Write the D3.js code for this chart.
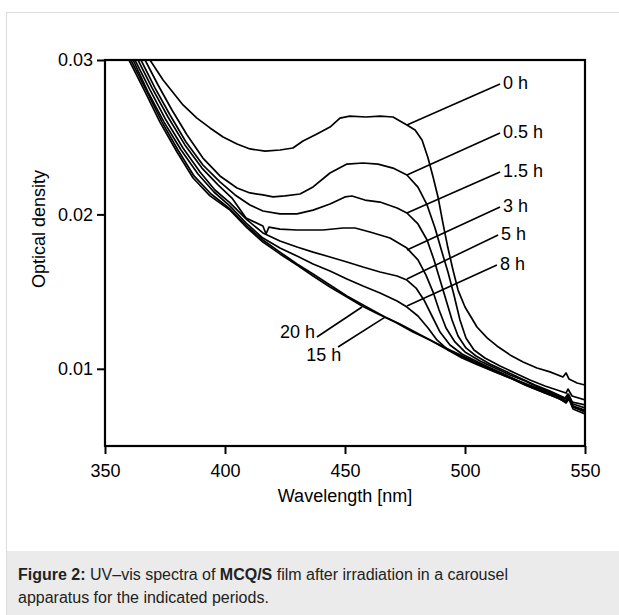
<!DOCTYPE html>
<html lang="en">
<head>
    <meta charset="UTF-8">
    <title>Figure 2</title>
    <script src="https://d3js.org/d3.v7.min.js"></script>
    <style>
        * { margin: 0; padding: 0; box-sizing: border-box; }
        body { background: #fff; font-family: "Liberation Sans", Arial, sans-serif; }
        .caption {
            position: absolute; left: 7px; top: 551px; width: 612px; height: 64px;
            background: #ebebeb; padding: 12px 11px 0 11px; font-size: 16px; color: #222;
        }
        .caption div { height: 23px; line-height: 23px; white-space: nowrap; }
    </style>
</head>
<body>
    <div id="chart"></div>
    <div class="caption">
        <div><b>Figure 2:</b><span> UV–vis spectra of </span><b>MCQ/S</b><span> film after irradiation in a carousel</span></div>
        <div><span>apparatus for the indicated periods.</span></div>
    </div>
    <script>
        // spectra: [wavelength nm, optical density]
        const s0h = [[366.7,0.0313],[368.75,0.0300],[374.2,0.0287],[382.5,0.02709],[388.3,0.02624],[393.75,0.0256],[399.2,0.02501],[405,0.02456],[410.4,0.02424],[416.7,0.0241],[422.9,0.02417],[428.3,0.0243],[432.5,0.02475],[438.3,0.02521],[443.75,0.02566],[447.9,0.02624],[452,0.02637],[458.75,0.02631],[464.6,0.02637],[470,0.02631],[472.9,0.02605],[475.8,0.02579],[479.2,0.02547],[482.1,0.02482],[484.6,0.02365],[486.7,0.02242],[488.75,0.02113],[490.8,0.01944],[492.9,0.01782],[495,0.0164],[497.1,0.0151],[500,0.0140],[505,0.01271],[509.2,0.0120],[513.3,0.01148],[518.75,0.0109],[524.2,0.01044],[530,0.01005],[535.4,0.0098],[540.8,0.00947],[542.1,0.00973],[543.3,0.00934],[546.7,0.00908],[550,0.00895]];
        const s05h = [[364.6,0.03097],[366.7,0.0300],[372.1,0.02838],[377.9,0.02676],[384.2,0.02514],[390.8,0.02365],[397.9,0.02249],[405,0.02171],[410.4,0.02139],[415.8,0.02126],[420,0.02113],[425,0.0212],[431.25,0.02132],[436.7,0.02178],[443.75,0.02268],[450.8,0.02326],[457.5,0.02333],[463.75,0.02326],[470,0.023],[475.8,0.02255],[480.4,0.02177],[484.2,0.02061],[487.5,0.01912],[490.4,0.01756],[492.9,0.01627],[495.4,0.01478],[497.9,0.01316],[500.4,0.012],[503.75,0.01122],[508.3,0.0107],[514.6,0.01018],[520.8,0.00973],[527.1,0.00927],[533.3,0.00889],[539.6,0.00856],[542.1,0.00843],[542.9,0.00869],[544.6,0.00824],[550,0.00798]];
        const s15h = [[362.9,0.03097],[365,0.0300],[370.8,0.02819],[377.1,0.02644],[383.75,0.02469],[390.8,0.0232],[397.9,0.0221],[404.2,0.02126],[410.4,0.02061],[415.8,0.02022],[422.9,0.02003],[430,0.02003],[436.7,0.02028],[443.75,0.02067],[450,0.02113],[452.9,0.02119],[458.3,0.02093],[464.6,0.0208],[471.7,0.02041],[475.8,0.02009],[480.4,0.01938],[484.2,0.01834],[487.1,0.01705],[489.6,0.01575],[492.1,0.01446],[494.6,0.01316],[497.1,0.01212],[500.4,0.01135],[504.6,0.01083],[510.4,0.01031],[516.7,0.00986],[522.9,0.0094],[529.2,0.00895],[535.4,0.00856],[541.7,0.00811],[542.9,0.00837],[544.6,0.00785],[550,0.00766]];
        const s3h = [[361.7,0.03097],[363.75,0.0300],[369.6,0.02819],[376.25,0.02631],[383.3,0.0245],[390.4,0.023],[397.1,0.02191],[402.9,0.02106],[408.75,0.01977],[415.8,0.01925],[417.1,0.01873],[418.3,0.01918],[422.9,0.01905],[430,0.01899],[440.8,0.01899],[449.2,0.01912],[454.2,0.01912],[460.4,0.01886],[468.75,0.01847],[475.8,0.01782],[480.4,0.01705],[483.75,0.01607],[486.7,0.01497],[489.2,0.01381],[492.1,0.01264],[495.8,0.01174],[500,0.01109],[506.25,0.0105],[512.5,0.01005],[518.75,0.0096],[525,0.00921],[531.25,0.00876],[537.5,0.00837],[542.1,0.00804],[543.3,0.0083],[545,0.00772],[550,0.00746]];
        const s5h = [[360.4,0.03097],[362.5,0.0300],[368.75,0.02806],[375.4,0.02611],[382.5,0.0243],[389.6,0.02275],[395.8,0.02158],[402.1,0.02074],[409.2,0.01964],[415.8,0.0188],[422.9,0.01828],[430,0.01789],[436.7,0.01756],[443.75,0.01724],[450.8,0.01692],[457.5,0.01659],[464.6,0.01627],[471.7,0.01601],[475.8,0.01575],[479.6,0.01523],[482.9,0.01446],[486.25,0.01342],[489.6,0.01238],[493.75,0.01154],[498.75,0.01096],[505.4,0.01044],[512.5,0.00992],[518.75,0.00947],[525,0.00902],[531.25,0.00863],[537.5,0.00824],[542.1,0.00792],[543.3,0.00817],[545,0.00759],[550,0.00733]];
        const s8h = [[359.6,0.03097],[361.7,0.0300],[367.9,0.02793],[374.6,0.02598],[381.7,0.02417],[388.75,0.02262],[395.4,0.02145],[402.1,0.02054],[409.2,0.01938],[415.8,0.01847],[422.9,0.01782],[430,0.0173],[436.7,0.01679],[443.75,0.01633],[450.8,0.01582],[457.5,0.01536],[464.6,0.01491],[471.7,0.01439],[475.8,0.0140],[480.4,0.01342],[484.6,0.01264],[488.3,0.01187],[492.9,0.01122],[498.75,0.0107],[505.4,0.01025],[512.5,0.0098],[518.75,0.0094],[525,0.00895],[531.25,0.00856],[537.5,0.00817],[542.1,0.00785],[543.3,0.00811],[545,0.00753],[550,0.0072]];
        const s15hours = [[359.2,0.03097],[360.8,0.0300],[367.5,0.02793],[373.75,0.02598],[380.4,0.02417],[387.1,0.02249],[394.2,0.02132],[402.1,0.02035],[409.6,0.01918],[415.8,0.01834],[422.9,0.01756],[430,0.01679],[436.7,0.01614],[443.75,0.01543],[450.8,0.01472],[458.3,0.01407],[466.7,0.01335],[472.9,0.0129],[479.2,0.01238],[486.25,0.0118],[493.75,0.01122],[500.8,0.0107],[507.9,0.01018],[514.6,0.00973],[521.25,0.00927],[527.9,0.00889],[534.2,0.0085],[539.6,0.00817],[542.1,0.00792],[543.3,0.00817],[545,0.00753],[550,0.00727]];
        const s20h = [[358.3,0.03097],[360,0.0300],[366.7,0.02793],[372.9,0.02598],[380,0.02404],[386.7,0.02236],[393.75,0.0212],[402.1,0.02028],[409.2,0.01912],[415.8,0.01821],[422.9,0.01744],[430,0.01672],[436.7,0.01601],[443.75,0.0153],[450.8,0.01465],[457.1,0.01407],[463.75,0.01355],[470.8,0.01303],[478.3,0.01238],[485.4,0.01187],[492.9,0.01122],[500,0.0107],[507.1,0.01018],[513.75,0.00973],[520.8,0.00927],[527.1,0.00882],[533.3,0.00843],[539.6,0.00804],[542.1,0.00778],[543.3,0.00804],[545,0.0074],[550,0.00707]];

        const seriesNames = ["0 h", "0.5 h", "1.5 h", "3 h", "5 h", "8 h", "15 h", "20 h"];
        const seriesData = [s0h, s05h, s15h, s3h, s5h, s8h, s15hours, s20h];

        // label leaders: [curve point w, v, label end w, v]
        const leaderRight = [[475.8,0.02579,514.6,0.02845],[475.8,0.02255,514.6,0.02527],[475.8,0.02009,514.6,0.02275],[475.8,0.01769,514.6,0.02048],[475.8,0.01582,513.8,0.01867],[475.8,0.01407,513.3,0.01672]];
        const leaderLeft = [[466.7,0.01335,447.1,0.01141],[457.1,0.0140,438.3,0.01206]];
        const leftLabelPos = [[448.5,0.01052],[437.5,0.01199]];

        const xTicks = [350, 400, 450, 500, 550];
        const xMinor = d3.range(350, 551, 10);
        const yTicks = [0.01, 0.02, 0.03];
        const yMinor = [0.005, 0.015, 0.025];

        const margin = { top: 60, left: 105 },
              width = 480,
              height = 386;

        const root = d3.select("#chart").append("svg")
            .attr("width", 619)
            .attr("height", 615)
            .style("font-family", '"Liberation Sans", Arial, sans-serif');

        root.append("rect")
            .attr("x", 6.5).attr("y", 12.5)
            .attr("width", 700).attr("height", 700)
            .attr("fill", "#fff").attr("stroke", "#dcdcdc");

        const svg = root.append("g")
            .attr("transform", `translate(${margin.left},${margin.top})`);

        const x = d3.scaleLinear().domain([350, 550]).range([0, width]);
        const y = d3.scaleLinear().domain([0.005, 0.03]).range([height, 0]);

        svg.append("clipPath").attr("id", "clip")
            .append("rect").attr("width", width).attr("height", height);

        const line = d3.line().x(d => x(d[0])).y(d => y(d[1]));

        svg.append("g").attr("clip-path", "url(#clip)")
            .selectAll("path")
            .data(seriesData)
            .join("path")
            .attr("d", line)
            .attr("fill", "none")
            .attr("stroke", "#000")
            .attr("stroke-width", 1.7)
            .attr("stroke-linejoin", "round");

        // leader lines + labels
        svg.selectAll(".lead")
            .data(leaderRight.concat(leaderLeft))
            .join("line")
            .attr("x1", d => x(d[0])).attr("y1", d => y(d[1]))
            .attr("x2", d => x(d[2])).attr("y2", d => y(d[3]))
            .attr("stroke", "#000").attr("stroke-width", 1.6);

        svg.selectAll(".lblR")
            .data(leaderRight)
            .join("text")
            .attr("x", d => x(d[2]) + 3)
            .attr("y", d => y(d[3]) + 5)
            .style("font-size", "18px")
            .text((d, i) => seriesNames[i]);

        svg.selectAll(".lblL")
            .data(leftLabelPos)
            .join("text")
            .attr("x", d => x(d[0]))
            .attr("y", d => y(d[1]))
            .attr("text-anchor", "end")
            .style("font-size", "18px")
            .text((d, i) => seriesNames[6 + i]);

        // axes
        const xAxis = svg.append("g").attr("transform", `translate(0,${height})`);
        xAxis.call(d3.axisBottom(x).tickValues(xMinor).tickSize(5).tickFormat(""));
        xAxis.call(d3.axisBottom(x).tickValues(xTicks).tickSize(8).tickPadding(10).tickFormat(d3.format("d")));

        const yAxis = svg.append("g");
        yAxis.call(d3.axisLeft(y).tickValues(yMinor).tickSize(5).tickFormat(""));
        yAxis.call(d3.axisLeft(y).tickValues(yTicks).tickSize(8).tickPadding(4).tickFormat(d3.format(".2f")));

        svg.selectAll(".domain").remove();
        svg.selectAll(".tick line").attr("stroke", "#000").attr("stroke-width", 2);
        svg.selectAll(".tick text").style("font-size", "18px").attr("fill", "#000")
            .style("font-family", '"Liberation Sans", Arial, sans-serif');

        svg.append("rect")
            .attr("width", width).attr("height", height)
            .attr("fill", "none").attr("stroke", "#000").attr("stroke-width", 2.2);

        svg.append("text")
            .attr("x", width / 2).attr("y", height + 56)
            .attr("text-anchor", "middle")
            .style("font-size", "18px")
            .text("Wavelength [nm]");

        svg.append("text")
            .attr("transform", "rotate(-90)")
            .attr("x", -169).attr("y", -60)
            .attr("text-anchor", "middle")
            .style("font-size", "18px")
            .text("Optical density");
    </script>
</body>
</html>
